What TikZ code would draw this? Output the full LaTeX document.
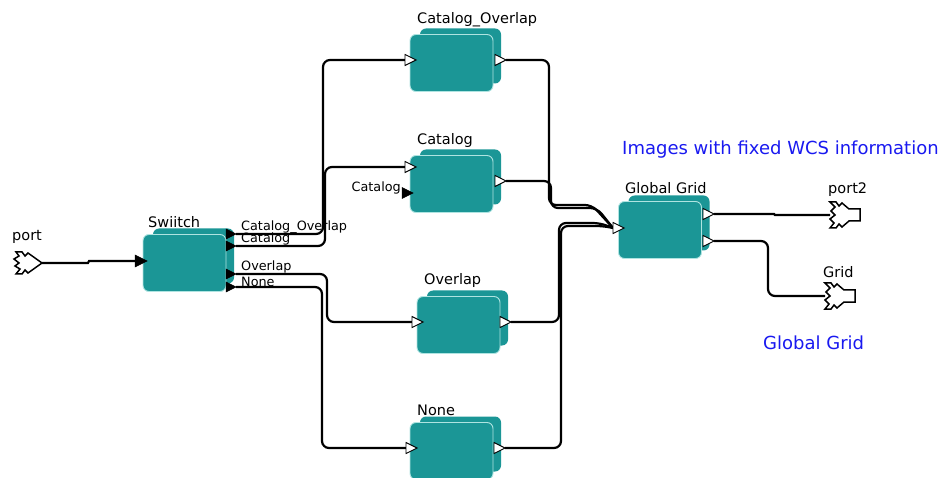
\documentclass[tikz,border=0pt]{standalone}
\usepackage{fontspec}
\setmainfont{DejaVu Sans}
\usetikzlibrary{shapes.geometric}
\pgfdeclarelayer{wires}
\pgfsetlayers{wires,main}
\definecolor{actorfill}{RGB}{27,150,150}
\definecolor{actoredge}{RGB}{175,228,225}
\definecolor{notecolor}{RGB}{25,25,240}
\tikzset{
  actorback/.style={fill=actorfill, rounded corners=6pt, minimum width=81pt, minimum height=55pt, inner sep=0pt},
  actorfront/.style={fill=actorfill, draw=actoredge, line width=0.9pt, rounded corners=6pt, minimum width=83pt, minimum height=57pt, inner sep=0pt},
  title/.style={anchor=base west, inner sep=0pt, font=\fontsize{14.5}{16}\selectfont},
  portlabel/.style={anchor=base west, inner sep=0pt, font=\fontsize{12.8}{14}\selectfont},
  note/.style={anchor=base west, inner sep=0pt, text=notecolor, font=\fontsize{18}{20}\selectfont},
  inport/.style={isosceles triangle, isosceles triangle stretches, minimum width=11pt, minimum height=11pt, inner sep=0pt, outer sep=0pt, fill=white, draw=black, line width=0.9pt, anchor=west},
  multiport/.style={isosceles triangle, isosceles triangle stretches, minimum width=10pt, minimum height=10pt, inner sep=0pt, outer sep=0pt, fill=black, draw=black, line width=0.5pt, anchor=west},
  wire/.style={draw=black, line width=2.2pt, rounded corners=7pt},
  extport/.style={draw=black, line width=1.5pt, fill=white, line join=miter},
}
\begin{document}
\begin{tikzpicture}[x=1pt,y=-1pt]
\useasboundingbox (0,0) rectangle (942,478);

% ---- actors: a back copy and a front box each ----
\node[actorback]  (sw-b) at (193.5,256) {};
\node[actorfront] (sw)   at (184.5,263) {};
\node[actorback]  (co-b) at (460.5,56) {};
\node[actorfront] (co)   at (451.5,63) {};
\node[actorback]  (ca-b) at (460.5,177) {};
\node[actorfront] (ca)   at (451.5,184) {};
\node[actorback]  (ov-b) at (467.5,318) {};
\node[actorfront] (ov)   at (458.5,325) {};
\node[actorback]  (no-b) at (460.5,444) {};
\node[actorfront] (no)   at (451.5,451) {};
\node[actorback]  (gg-b) at (669,223) {};
\node[actorfront] (gg)   at (660,230) {};

% ---- actor titles ----
\node[title] (t-sw) at (148,228) {Swiitch};
\node[title] (t-co) at (417,24) {Catalog\_Overlap};
\node[title] (t-ca) at (417,145) {Catalog};
\node[title] (t-ov) at (424,285) {Overlap};
\node[title] (t-no) at (417,415) {None};
\node[title] (t-gg) at (625,194) {Global Grid};

% ---- ports on the actors ----
\node[multiport, minimum width=12pt, minimum height=12pt] (sw-i) at (135,261) {};
\node[multiport] (sw-o1) at (226,234) {};
\node[multiport] (sw-o2) at (226,246) {};
\node[multiport] (sw-o3) at (226,274) {};
\node[multiport] (sw-o4) at (226,287) {};
\node[inport] (co-i) at (405,60) {};
\node[inport] (co-o) at (495,60) {};
\node[inport] (ca-i) at (405,167) {};
\node[multiport, minimum width=11pt, minimum height=11pt] (ca-x) at (402,193) {};
\node[inport] (ca-o) at (495,181) {};
\node[inport] (ov-i) at (412,322) {};
\node[inport] (ov-o) at (500,322) {};
\node[inport] (no-i) at (406,448) {};
\node[inport] (no-o) at (494,448) {};
\node[inport] (gg-i) at (613,228) {};
\node[inport] (gg-o1) at (703,214) {};
\node[inport] (gg-o2) at (703,241) {};

% ---- port names ----
\node[portlabel] (l-co) at (241,231) {Catalog\_Overlap};
\node[portlabel] (l-ca) at (241,243) {Catalog};
\node[portlabel] (l-ov) at (241,271) {Overlap};
\node[portlabel] (l-no) at (241,287) {None};
\node[portlabel, anchor=base east] (l-cax) at (401,192) {Catalog};

% ---- external ports ----
\draw[extport, shift={(13,263)}]
  (3,-11) -- (9,-11) -- (12,-7) -- (15,-10) -- (29,0) -- (15,10) -- (12,7)
  -- (9,11) -- (3,11) -- (7,6) -- (2,3) -- (6,0) -- (1,-4) -- (6,-7) -- cycle;
\coordinate (port) at (42,263);
\node[title] (t-port) at (12,241) {port};

\draw[extport, shift={(830,215)}]
  (0,-13) -- (6,-13) -- (9,-9) -- (12,-12) -- (19,-6) -- (30,-6) -- (30,6)
  -- (19,6) -- (12,12) -- (9,9) -- (6,13) -- (0,13) -- (4,8) -- (0,4)
  -- (5,0) -- (1,-4) -- (5,-8) -- cycle;
\coordinate (port2) at (830,215);
\node[title] (t-p2) at (828,194) {port2};

\draw[extport, shift={(825,296)}]
  (0,-13) -- (6,-13) -- (9,-9) -- (12,-12) -- (19,-6) -- (30,-6) -- (30,6)
  -- (19,6) -- (12,12) -- (9,9) -- (6,13) -- (0,13) -- (4,8) -- (0,4)
  -- (5,0) -- (1,-4) -- (5,-8) -- cycle;
\coordinate (gridport) at (825,296);
\node[title] (t-grid) at (823,278) {Grid};

% ---- annotations ----
\node[note] (n-wcs) at (622,155) {Images with fixed WCS information};
\node[note] (n-gg) at (763,349) {Global Grid};

% ---- relations ----
\begin{pgfonlayer}{wires}
\draw[wire, sharp corners] (port) -- ++(46,0) -- ++(1,-2) -- (sw-i.west);
\draw[wire] (sw-o1.east) -- ++(87,0) |- (co-i.west);
\draw[wire] (sw-o2.east) -- ++(89,0) |- (ca-i.west);
\draw[wire] (sw-o3.east) -- ++(91,0) |- (ov-i.west);
\draw[wire] (sw-o4.east) -- ++(86,0) |- (no-i.west);
\draw[wire] (co-o.east) -- ++(43,0) -- ++(0,145) -- (592,205) -- (gg-i.west);
\draw[wire] (ca-o.east) -- ++(45,0) -- ++(0,27) -- (597,208) -- (gg-i.west);
\draw[wire] (ov-o.east) -- ++(48,0) -- ++(0,-99) -- (600,223) -- (gg-i.west);
\draw[wire] (no-o.east) -- ++(56,0) -- ++(0,-222) -- (603,226) -- (gg-i.west);
\draw[wire, sharp corners] (gg-o1.east) -- ++(60,0) -- ++(1,1) -- (port2);
\draw[wire] (gg-o2.east) -- ++(54,0) |- (gridport);
\end{pgfonlayer}
\end{tikzpicture}
\end{document}
